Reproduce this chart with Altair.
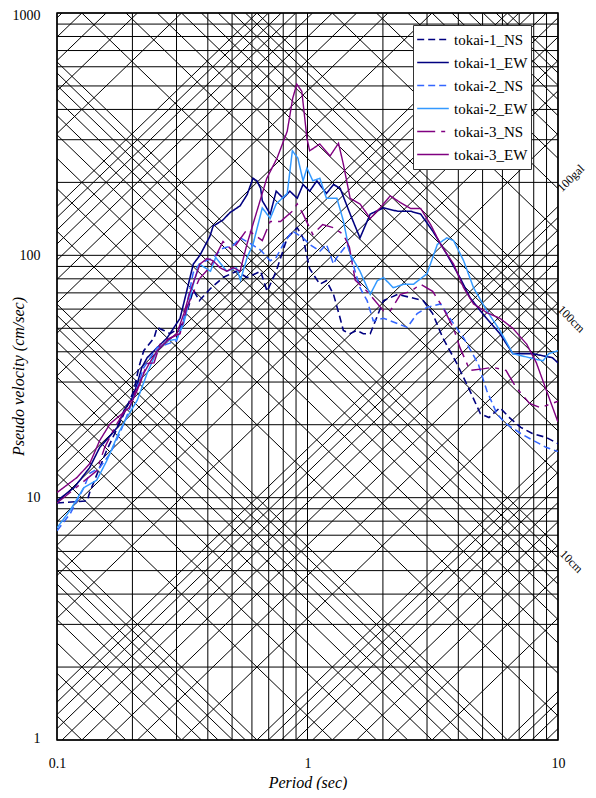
import altair as alt
import pandas as pd
import numpy as np

series_names = ["tokai-1_NS", "tokai-1_EW", "tokai-2_NS", "tokai-2_EW", "tokai-3_NS", "tokai-3_EW"]
series_colors = ["#000080", "#000080", "#3366FF", "#3399FF", "#800080", "#800080"]
series_dashes = [[7, 4], [1, 0], [7, 4], [1, 0], [18, 6, 4, 6], [1, 0]]
series_widths = [1.6, 1.4, 1.6, 1.4, 2.8, 2.6]

t1ns_T = [0.1, 0.132, 0.135, 0.148, 0.158, 0.17, 0.185, 0.203, 0.212, 0.222, 0.244, 0.251, 0.267, 0.283, 0.31, 0.33, 0.35, 0.37, 0.41, 0.46, 0.52, 0.574, 0.65, 0.69, 0.75, 0.83, 0.91, 0.96, 1.02, 1.12, 1.19, 1.27, 1.35, 1.39, 1.48, 1.57, 1.67, 1.78, 2.01, 2.29, 2.58, 2.9, 3.16, 3.47, 3.95, 4.45, 4.9, 5.3, 5.86, 6.4, 7.1, 7.9, 9.0, 10]
t1ns_SV = [9.5, 9.7, 10.5, 13.3, 15.7, 18.4, 22.2, 27.7, 34.4, 40.4, 45.6, 50.4, 49, 47.5, 50.4, 58, 72, 65, 73, 81, 86, 81, 86, 71, 86, 118, 130, 118, 88, 76, 78.6, 69, 55, 49, 47.5, 49, 47.5, 47.5, 65, 69, 67, 65, 57.5, 45.6, 35.7, 27.6, 22.2, 21.4, 23.5, 21.4, 19.5, 18.4, 17.7, 16.7]

t1ew_T = [0.1, 0.117, 0.135, 0.148, 0.166, 0.174, 0.185, 0.2, 0.209, 0.218, 0.229, 0.251, 0.275, 0.31, 0.35, 0.372, 0.408, 0.42, 0.46, 0.49, 0.538, 0.574, 0.606, 0.628, 0.65, 0.66, 0.71, 0.75, 0.8, 0.85, 0.91, 0.96, 1.02, 1.09, 1.19, 1.27, 1.35, 1.48, 1.62, 1.78, 2.01, 2.29, 2.58, 2.83, 3.16, 3.6, 4.06, 4.45, 5.0, 5.86, 6.6, 7.9, 9.5, 10]
t1ew_SV = [9.7, 11, 13.3, 16.1, 18.4, 19.5, 22.9, 25.8, 29.5, 34.4, 37.8, 41.6, 45.6, 55, 92, 100, 120, 132, 140, 150, 160, 178, 208, 203, 189, 168, 148, 184, 172, 184, 172, 196, 184, 203, 180, 196, 189, 148, 118, 148, 157, 152, 152, 148, 126, 101, 81, 67, 57.5, 47.5, 39.3, 39.3, 37.8, 36]

t2ns_T = [0.1, 0.113, 0.128, 0.135, 0.148, 0.163, 0.178, 0.194, 0.209, 0.222, 0.251, 0.275, 0.3, 0.32, 0.35, 0.37, 0.42, 0.46, 0.505, 0.54, 0.59, 0.65, 0.71, 0.75, 0.8, 0.87, 0.96, 1.02, 1.12, 1.19, 1.27, 1.31, 1.44, 1.52, 1.62, 1.73, 1.83, 2.01, 2.29, 2.5, 2.74, 3.0, 3.4, 3.7, 4.2, 4.8, 5.2, 5.7, 6.2, 7.1, 7.9, 9.0, 10]
t2ns_SV = [7.3, 8.6, 11, 12.6, 13.3, 15.2, 18.4, 22.9, 28.5, 34.4, 41.6, 43, 44.4, 53.7, 85, 92, 98, 107, 110, 118, 112, 105, 95, 98, 111, 126, 118, 111, 104, 111, 92, 98, 111, 92, 73.5, 65, 53.7, 55, 52.3, 50.4, 57.5, 61, 63, 55, 45.6, 35.7, 27.6, 22.2, 20.2, 18.4, 17.3, 16.1, 15.5]

t2ew_T = [0.1, 0.113, 0.128, 0.144, 0.158, 0.169, 0.178, 0.19, 0.209, 0.229, 0.251, 0.275, 0.3, 0.32, 0.35, 0.37, 0.41, 0.43, 0.476, 0.52, 0.54, 0.574, 0.606, 0.66, 0.71, 0.75, 0.83, 0.87, 0.915, 0.96, 0.995, 1.05, 1.12, 1.19, 1.31, 1.39, 1.48, 1.62, 1.78, 1.9, 2.01, 2.2, 2.42, 2.65, 3.0, 3.3, 3.6, 3.83, 4.2, 4.6, 5.2, 5.86, 6.6, 7.7, 8.7, 9.2, 10]
t2ew_SV = [7.5, 8.9, 11, 11.8, 14.2, 16.7, 18.9, 21.4, 25.2, 32.6, 40.4, 44.4, 45, 52, 76, 92, 86, 98, 86, 89, 79, 98, 111, 157, 142, 163, 180, 270, 252, 203, 229, 203, 208, 172, 172, 139, 101, 86, 69, 78.6, 81, 73.5, 76, 76, 84, 111, 118, 115, 95, 73.5, 59, 49, 39.3, 37.8, 36.7, 39.3, 40.4]

t3ns_T = [0.1, 0.144, 0.155, 0.17, 0.19, 0.214, 0.229, 0.244, 0.258, 0.283, 0.31, 0.33, 0.37, 0.41, 0.46, 0.5, 0.574, 0.66, 0.71, 0.78, 0.87, 0.91, 0.96, 1.05, 1.15, 1.27, 1.39, 1.47, 1.55, 1.73, 2.01, 2.14, 2.35, 2.58, 2.83, 3.16, 3.47, 3.83, 4.06, 4.45, 5.0, 5.5, 6.2, 6.8, 7.7, 8.5, 10]
t3ns_SV = [9.5, 12.9, 16.1, 19.5, 23.5, 29.5, 35.8, 36, 43, 45.6, 47.5, 61, 80, 90, 114, 105, 128, 115, 138, 138, 152, 163, 148, 122, 134, 130, 122, 108, 79, 71, 59, 59, 69, 71, 76, 71, 61, 50, 41.6, 33.5, 34, 34.5, 33.5, 28.5, 24.5, 23.5, 25]

t3ew_T = [0.1, 0.12, 0.135, 0.148, 0.163, 0.178, 0.194, 0.209, 0.222, 0.235, 0.251, 0.275, 0.301, 0.321, 0.339, 0.372, 0.397, 0.42, 0.447, 0.476, 0.505, 0.538, 0.573, 0.628, 0.688, 0.756, 0.83, 0.873, 0.906, 0.949, 0.995, 1.02, 1.12, 1.23, 1.33, 1.39, 1.48, 1.62, 1.78, 1.95, 2.14, 2.35, 2.58, 2.83, 3.1, 3.4, 3.83, 4.2, 4.6, 5.2, 5.86, 6.6, 7.5, 8.2, 9.0, 10]
t3ew_SV = [10.5, 12.1, 13.8, 17.2, 20.2, 21.8, 23.5, 27.7, 32.6, 36.2, 40.4, 44.4, 47.5, 57.6, 70, 92, 97, 95, 89, 86, 89, 86, 111, 152, 208, 252, 325, 445, 509, 475, 304, 270, 288, 257, 290, 238, 172, 163, 142, 157, 176, 165, 156, 156, 134, 111, 92, 73.5, 63, 58, 55, 50, 43, 36, 27.6, 20.5]

x_tick_labels = [0.1, 1, 10]
y_tick_labels = [1, 10, 100, 1000]
diag_labels = ["100gal", "100cm", "10cm"]

series_data = [
    (series_names[0], t1ns_T, t1ns_SV),
    (series_names[1], t1ew_T, t1ew_SV),
    (series_names[2], t2ns_T, t2ns_SV),
    (series_names[3], t2ew_T, t2ew_SV),
    (series_names[4], t3ns_T, t3ns_SV),
    (series_names[5], t3ew_T, t3ew_SV),
]
rows = []
for name, Ts, SVs in series_data:
    for i, (t, v) in enumerate(zip(Ts, SVs)):
        rows.append({"series": name, "T": t, "SV": v, "order": i})
df = pd.DataFrame(rows)

T_MIN, T_MAX, V_MIN, V_MAX = 0.1, 10.0, 1.0, 1000.0
xs = alt.Scale(type="log", domain=[T_MIN, T_MAX], nice=False)
ys = alt.Scale(type="log", domain=[V_MIN, V_MAX], nice=False)

# rectangular grid
vgrid = pd.DataFrame({"T": [m * 10.0 ** k for k in (-1, 0) for m in range(1, 10)] + [10.0]})
hgrid = pd.DataFrame({"SV": [m * 10.0 ** k for k in (0, 1, 2) for m in range(1, 10)] + [1000.0]})

# tripartite diagonals: constant displacement (cm) and constant acceleration (gal)
two_pi = 2 * np.pi
drows = []
gid = 0
for k in range(-2, 4):
    for m in range(1, 10):
        d = m * 10.0 ** k
        lo, hi = max(T_MIN, two_pi * d / V_MAX), min(T_MAX, two_pi * d / V_MIN)
        if lo < hi:
            drows += [{"g": gid, "T": lo, "SV": two_pi * d / lo, "o": 0},
                      {"g": gid, "T": hi, "SV": two_pi * d / hi, "o": 1}]
            gid += 1
for k in range(-1, 6):
    for m in range(1, 10):
        a = m * 10.0 ** k
        lo, hi = max(T_MIN, two_pi * V_MIN / a), min(T_MAX, two_pi * V_MAX / a)
        if lo < hi:
            drows += [{"g": gid, "T": lo, "SV": a * lo / two_pi, "o": 0},
                      {"g": gid, "T": hi, "SV": a * hi / two_pi, "o": 1}]
            gid += 1
ddf = pd.DataFrame(drows)

grid_color = "#000000"
vrules = alt.Chart(vgrid).mark_rule(color=grid_color, strokeWidth=1).encode(x=alt.X("T:Q", scale=xs))
hrules = alt.Chart(hgrid).mark_rule(color=grid_color, strokeWidth=1).encode(y=alt.Y("SV:Q", scale=ys))
diags = alt.Chart(ddf).mark_line(color=grid_color, strokeWidth=1, clip=True).encode(
    x=alt.X("T:Q", scale=xs), y=alt.Y("SV:Q", scale=ys), detail="g:N", order="o:Q")

legend_kw = dict(title=None, orient="none", legendX=356, legendY=12,
                 fillColor="white", strokeColor="#333333", padding=3,
                 labelFont="Liberation Serif", labelFontSize=15, labelColor="black",
                 symbolType="stroke", symbolSize=1000, labelOffset=4,
                 clipHeight=23, rowPadding=0)

lines = alt.Chart(df).mark_line(clip=True).encode(
    x=alt.X("T:Q", scale=xs,
            axis=alt.Axis(values=x_tick_labels, format="~g", title="Period (sec)",
                          labelPadding=16, titleY=42, titleBaseline="middle")),
    y=alt.Y("SV:Q", scale=ys,
            axis=alt.Axis(values=y_tick_labels, format="~g", title="Pseudo velocity (cm/sec)",
                          labelPadding=17, labelFlush=True, labelFlushOffset=5,
                          titleX=-39, titleY=363, titleAngle=-90,
                          titleAlign="center", titleBaseline="middle")),
    color=alt.Color("series:N", scale=alt.Scale(domain=series_names, range=series_colors), legend=alt.Legend(**legend_kw)),
    strokeDash=alt.StrokeDash("series:N", scale=alt.Scale(domain=series_names, range=series_dashes), legend=alt.Legend(**legend_kw)),
    strokeWidth=alt.StrokeWidth("series:N", scale=alt.Scale(domain=series_names, range=series_widths), legend=alt.Legend(**legend_kw)),
    order="order:Q",
)

# labels for the diagonal families at the right edge
lab_df = pd.DataFrame({"label": diag_labels, "T": [10.0, 10.0, 10.0],
                       "SV": [100 * 10.0 / two_pi, two_pi * 100 / 10.0, two_pi * 10 / 10.0]})
lab_gal = alt.Chart(lab_df.iloc[[0]]).mark_text(angle=315, dx=29, dy=-11, font="Liberation Serif", fontSize=12,
                                                  align="center", baseline="middle", color="black").encode(
    x=alt.X("T:Q", scale=xs), y=alt.Y("SV:Q", scale=ys), text="label:N")
lab_cm = alt.Chart(lab_df.iloc[[1, 2]]).mark_text(angle=45, dx=20, dy=1, font="Liberation Serif", fontSize=12,
                                                    align="center", baseline="middle", color="black").encode(
    x=alt.X("T:Q", scale=xs), y=alt.Y("SV:Q", scale=ys), text="label:N")

chart = alt.layer(vrules, hrules, diags, lines, lab_gal, lab_cm).properties(
    width=501, height=727,
    autosize=alt.AutoSizeParams(type="none"),
    padding={"left": 49, "top": 5, "right": 30, "bottom": 50},
).configure(background="white").configure_view(stroke="black", strokeWidth=1.5).configure_axis(
    grid=False, ticks=False, domain=False,
    labelFont="Liberation Serif", labelFontSize=14, labelColor="black", labelFlush=False,
    titleFont="Liberation Serif", titleFontSize=16, titleFontStyle="italic", titleFontWeight="normal",
    titleColor="black",
)

chart.save("out.html", embed_options={"renderer": "svg", "actions": False})
